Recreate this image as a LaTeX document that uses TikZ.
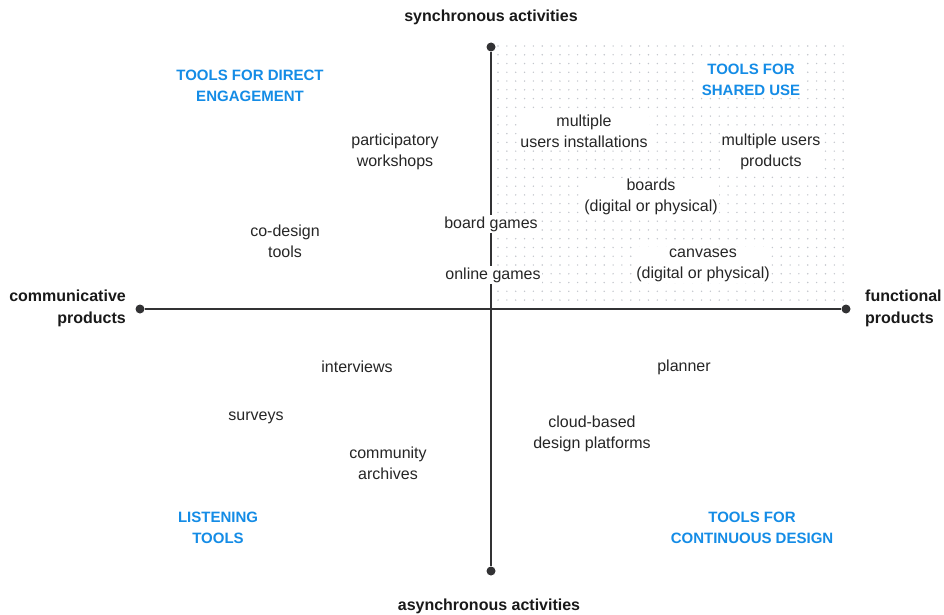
\documentclass[tikz,border=0pt]{standalone}
\usepackage{fontspec}
\setmainfont{Liberation Sans}
\definecolor{qblue}{RGB}{20,140,230}
\definecolor{axisc}{RGB}{50,50,52}
\definecolor{gridc}{RGB}{195,198,204}
\tikzset{
  lbl/.style={font=\fontsize{16}{21}\selectfont, align=center, fill=white, inner sep=1.5pt, text=black!85},
  quad/.style={font=\fontsize{15}{21}\selectfont\bfseries, align=center, fill=white, inner sep=1.5pt, text=qblue},
  axl/.style={font=\fontsize{16}{22}\selectfont\bfseries, inner sep=0pt, text=black!90},
  axline/.style={draw=axisc, line width=1.6pt},
  enddot/.style={circle, fill=axisc, inner sep=0pt, minimum size=9pt}
}
\begin{document}
\begin{tikzpicture}[x=1pt,y=-1pt]
\useasboundingbox (0,0) rectangle (944,615);
% dot grid
\foreach \i in {0,...,39}{
  \foreach \j in {0,...,29}{
    \fill[gridc] (498+\i*8.85, 46+\j*8.76) circle (0.8pt);
  }
}
% axes
\node[enddot] (top) at (491,47) {};
\node[enddot] (bot) at (491,571) {};
\node[enddot] (left) at (140,309) {};
\node[enddot] (right) at (846,309) {};
\draw[axline] (top) -- (bot);
\draw[axline] (left) -- (right);
% axis labels
\node[axl] (sync) at (491,17) {synchronous activities};
\node[axl] (async) at (489,606) {asynchronous activities};
\node[axl, align=right, anchor=east] (comm) at (126,308) {communicative\\products};
\node[axl, align=left, anchor=west] (func) at (865,308) {functional\\products};
% quadrant titles
\node[quad] (q1) at (250,86) {TOOLS FOR DIRECT\\ENGAGEMENT};
\node[quad] (q2) at (751,80) {TOOLS FOR\\SHARED USE};
\node[quad] (q3) at (218,528) {LISTENING\\TOOLS};
\node[quad] (q4) at (752,528) {TOOLS FOR\\CONTINUOUS DESIGN};
% items
\node[lbl] (pw) at (395,152) {participatory\\workshops};
\node[lbl] (cd) at (285,241) {co-design\\tools};
\node[lbl] (bg) at (491,224) {board games};
\node[lbl] (og) at (493,275) {online games};
\node[lbl] (mui) at (584,131) {multiple\\users installations};
\node[lbl] (mup) at (771,152) {multiple users\\products};
\node[lbl] (bd) at (651,197) {boards\\(digital or physical)};
\node[lbl] (cv) at (703,265) {canvases\\(digital or physical)};
\node[lbl] (iv) at (357,367) {interviews};
\node[lbl] (pl) at (684,367) {planner};
\node[lbl] (sv) at (256,418) {surveys};
\node[lbl] (cb) at (592,434) {cloud-based\\design platforms};
\node[lbl] (ca) at (388,463) {community\\archives};
\end{tikzpicture}
\end{document}
